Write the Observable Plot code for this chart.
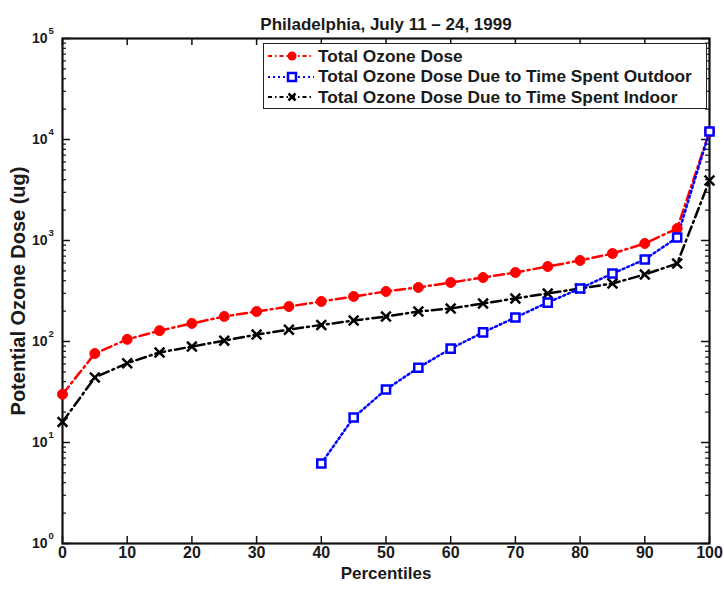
<!DOCTYPE html>
<html>
<head>
<meta charset="utf-8">
<script src="https://cdn.jsdelivr.net/npm/d3@7"></script>
<script src="https://cdn.jsdelivr.net/npm/@observablehq/plot@0.6"></script>
<style>
  html, body { margin: 0; padding: 0; background: white; }
  #wrap { position: relative; width: 724px; height: 590px; font-family: "Liberation Sans", Arial, sans-serif; }
  #legend { position: absolute; left: 263px; top: 43px; width: 444px; height: 66px; border: 1.5px solid #222; background: white; box-sizing: border-box; padding-top: 2px; }
  .row { height: 20.5px; display: flex; align-items: center; font-weight: bold; font-size: 17.3px; color: #1a1a1a; }
  .row svg { width: 52px; height: 18px; margin-right: 2px; flex: none; }
</style>
</head>
<body>
<div id="wrap"></div>
<script>
const title = "Philadelphia, July 11 \u2013 24, 1999";
const xLabel = "Percentiles";
const yLabel = "Potential Ozone Dose (ug)";
const seriesNames = ["Total Ozone Dose", "Total Ozone Dose Due to Time Spent Outdoor", "Total Ozone Dose Due to Time Spent Indoor"];

const percentiles = [0,5,10,15,20,25,30,35,40,45,50,55,60,65,70,75,80,85,90,95,100];
const totalDose   = [30,76,105,128,151,177,198,222,249,279,313,343,384,430,482,553,634,743,934,1314,12000];
const indoorDose  = [16,44,61,78,89,102,117,131,146,161,177,198,212,238,267,299,335,375,461,592,3930];
const outdoorPercentiles = [40,45,50,55,60,65,70,75,80,85,90,95,100];
const outdoorDose = [6.2,17.7,33.5,55,85,123,173,243,335,471,649,1071,12000];

const xTicks = [0,10,20,30,40,50,60,70,80,90,100];
const yMajor = [1,10,100,1000,10000,100000];
const yMinor = [];
for (const d of [1,10,100,1000,10000]) for (const m of [2,3,4,5,6,7,8,9]) yMinor.push(d*m);

const total = percentiles.map((p,i) => ({p, v: totalDose[i]}));
const indoor = percentiles.map((p,i) => ({p, v: indoorDose[i]}));
const outdoor = outdoorPercentiles.map((p,i) => ({p, v: outdoorDose[i]}));

const W = 724, H = 590, mL = 62, mR = 15, mT = 38, mB = 47;
const fw = W - mL - mR, fh = H - mT - mB;

const chart = Plot.plot({
  width: W, height: H,
  marginLeft: mL, marginRight: mR, marginTop: mT, marginBottom: mB,
  x: {domain: [0, 100], axis: null},
  y: {type: "log", domain: [1, 1e5], axis: null},
  style: {fontFamily: "'Liberation Sans', Arial, sans-serif", background: "white", overflow: "visible"},
  marks: [
    // ticks (inward, MATLAB style)
    Plot.tickX(xTicks, {x: d => d, insetTop: fh - 7, stroke: "#111", strokeWidth: 1.5}),
    Plot.tickX(xTicks, {x: d => d, insetBottom: fh - 7, stroke: "#111", strokeWidth: 1.5}),
    Plot.tickY(yMajor, {y: d => d, insetRight: fw - 8, stroke: "#111", strokeWidth: 1.5}),
    Plot.tickY(yMajor, {y: d => d, insetLeft: fw - 8, stroke: "#111", strokeWidth: 1.5}),
    Plot.tickY(yMinor, {y: d => d, insetRight: fw - 4, stroke: "#111", strokeWidth: 1.2}),
    Plot.tickY(yMinor, {y: d => d, insetLeft: fw - 4, stroke: "#111", strokeWidth: 1.2}),
    Plot.frame({stroke: "#111", strokeWidth: 2.2}),
    // tick labels
    Plot.text(xTicks, {x: d => d, text: d => String(d), frameAnchor: "bottom", dy: 14, fontSize: 16, fontWeight: "bold", fill: "#1a1a1a"}),
    Plot.text(yMajor, {y: d => d, text: () => "10", frameAnchor: "left", dx: -15, textAnchor: "end", fontSize: 14, fontWeight: "bold", fill: "#1a1a1a"}),
    Plot.text(yMajor, {y: d => d, text: d => String(Math.round(Math.log10(d))), frameAnchor: "left", dx: -14, dy: -8, textAnchor: "start", fontSize: 9.5, fontWeight: "bold", fill: "#1a1a1a"}),
    // axis labels and title
    Plot.text([xLabel], {frameAnchor: "bottom", dy: 35, fontSize: 17, fontWeight: "bold", fill: "#1a1a1a"}),
    Plot.text([yLabel], {frameAnchor: "left", dx: -44, rotate: -90, textAnchor: "middle", fontSize: 20, fontWeight: "bold", fill: "#1a1a1a"}),
    Plot.text([title], {frameAnchor: "top", dy: -21, fontSize: 17, fontWeight: "bold", fill: "#1a1a1a"}),
    // series
    Plot.line(total, {x: "p", y: "v", stroke: "#ff0000", strokeWidth: 2.5, strokeDasharray: "10,4,2,4"}),
    Plot.line(indoor, {x: "p", y: "v", stroke: "#000", strokeWidth: 2.5, strokeDasharray: "10,4,2,4"}),
    Plot.line(outdoor, {x: "p", y: "v", stroke: "#0000ff", strokeWidth: 2.5, strokeDasharray: "2,3"}),
    Plot.dot(total, {x: "p", y: "v", r: 5, fill: "#ff0000", stroke: "#ff0000", strokeWidth: 1}),
    Plot.dot(indoor, {x: "p", y: "v", symbol: "times", r: 4.5, stroke: "#000", strokeWidth: 2.5}),
    Plot.dot(outdoor, {x: "p", y: "v", symbol: "square", r: 4.6, fill: "white", stroke: "#0000ff", strokeWidth: 2.5})
  ]
});
document.getElementById("wrap").appendChild(chart);

// Legend
const legendStyles = [
  {stroke: "#ff0000", dash: "4,3,1.5,3", marker: '<circle cx="28" cy="9" r="4.5" fill="#ff0000"/>'},
  {stroke: "#0000ff", dash: "2,3", marker: '<rect x="24" y="5" width="8" height="8" fill="white" stroke="#0000ff" stroke-width="2.5"/>'},
  {stroke: "#000", dash: "4,3,1.5,3", marker: '<path d="M24.5,5.5L31.5,12.5M31.5,5.5L24.5,12.5" stroke="#000" stroke-width="2.5"/>'}
];
const legend = document.createElement("div");
legend.id = "legend";
legend.innerHTML = seriesNames.map((name, i) => {
  const s = legendStyles[i];
  return `<div class="row"><svg viewBox="0 0 52 18"><line x1="4" y1="9" x2="50" y2="9" stroke="${s.stroke}" stroke-width="2" stroke-dasharray="${s.dash}"/>${s.marker}</svg><span>${name}</span></div>`;
}).join("");
document.getElementById("wrap").appendChild(legend);
</script>
</body>
</html>
